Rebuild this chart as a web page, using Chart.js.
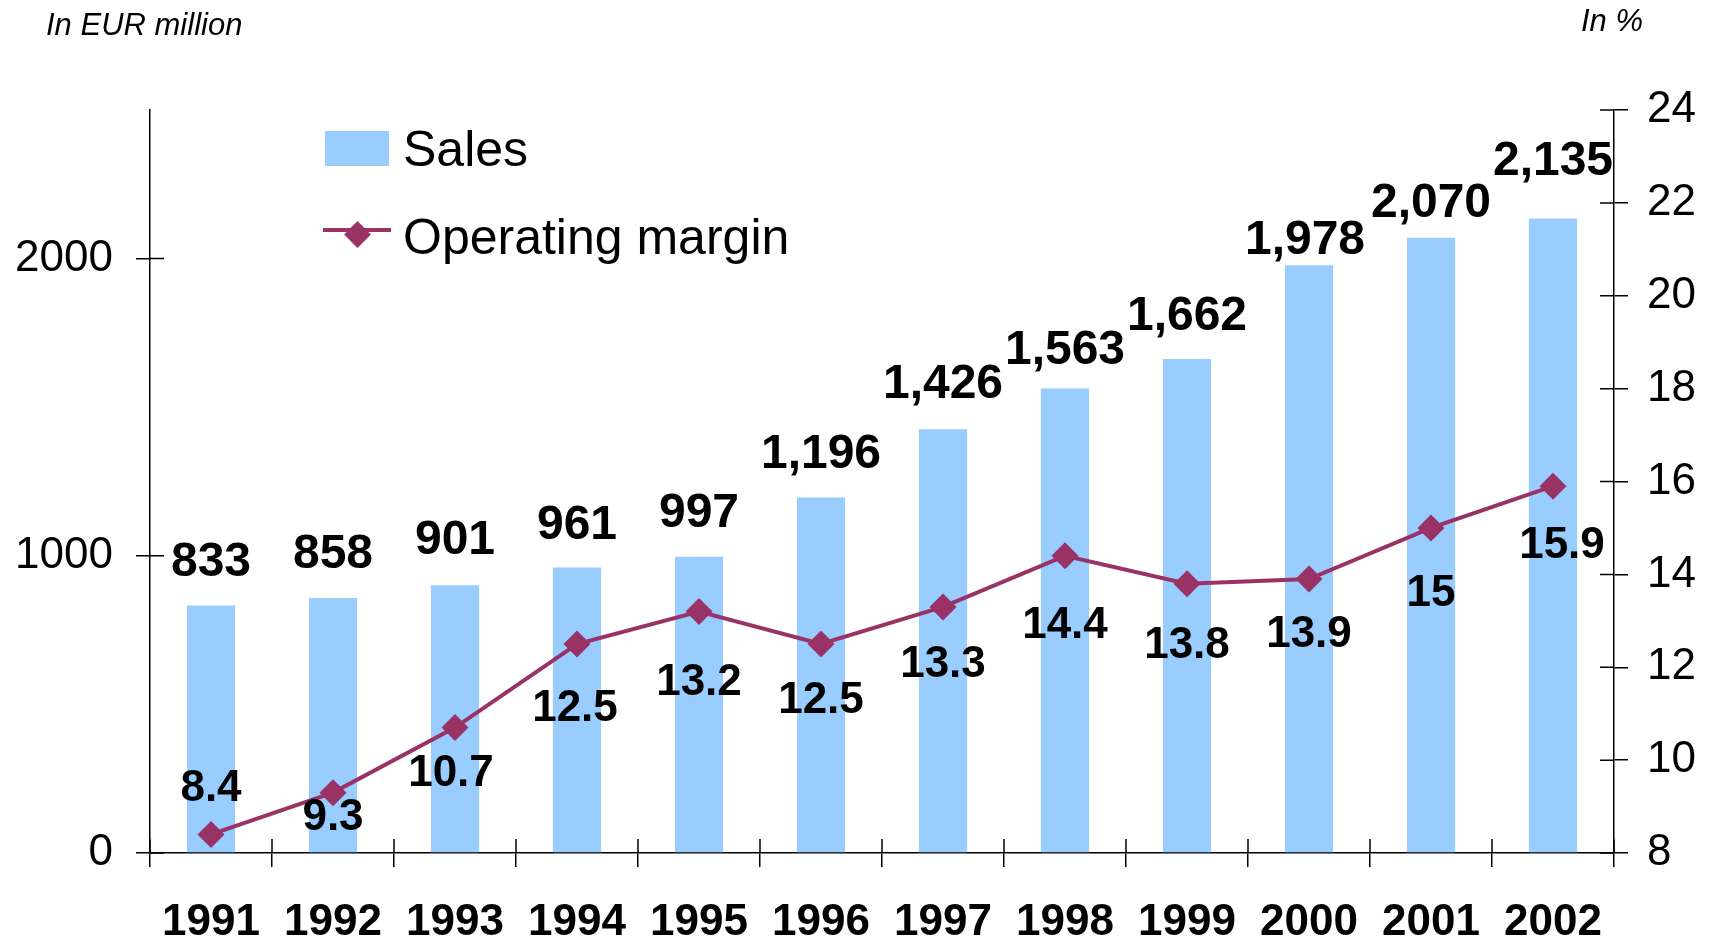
<!DOCTYPE html>
<html>
<head>
<meta charset="utf-8">
<script src="https://cdn.jsdelivr.net/npm/chart.js@4"></script>
<style>
  html, body { margin: 0; padding: 0; background: #fff; }
  #wrap { position: relative; width: 1717px; height: 940px; font-family: "Liberation Sans", Arial, sans-serif; color: #000; }
  #chart { position: absolute; left: 0; top: 0; }
  .unit { position: absolute; font-style: italic; font-size: 31px; line-height: 31px; white-space: nowrap; }
  .leg { position: absolute; font-size: 50px; line-height: 50px; white-space: nowrap; }
  .swatch { position: absolute; background: #99ccff; }
  .legline { position: absolute; background: #993366; }
  .diamond { position: absolute; background: #993366; transform: rotate(45deg); }
</style>
</head>
<body>
<div id="wrap">
  <canvas id="chart" width="1717" height="940"></canvas>
  <div class="unit" style="left:46px; top:9px;">In EUR million</div>
  <div class="unit" style="left:1581px; top:5px;">In %</div>
  <div class="swatch" style="left:325px; top:131px; width:64px; height:35px;"></div>
  <div class="leg" style="left:403px; top:124px;">Sales</div>
  <div class="legline" style="left:323px; top:228px; width:68px; height:4px;"></div>
  <div class="diamond" style="left:348px; top:225px; width:19px; height:19px;"></div>
  <div class="leg" style="left:403px; top:212px;">Operating margin</div>
</div>
<script>
// Chart data
const years = ['1991', '1992', '1993', '1994', '1995', '1996', '1997', '1998', '1999', '2000', '2001', '2002'];
const sales = [833, 858, 901, 961, 997, 1196, 1426, 1563, 1662, 1978, 2070, 2135];
const margin = [8.4, 9.3, 10.7, 12.5, 13.2, 12.5, 13.3, 14.4, 13.8, 13.9, 15, 15.9];
const salesTicks = [0, 1000, 2000];
const marginTicks = [8, 10, 12, 14, 16, 18, 20, 22, 24];

// Label nudges (px), as placed in the original
const barLabelUp = [43, 43, 44, 42, 43, 43, 44, 38, 42, 24, 34, 57];
const barLabelDx = [0, 0, 0, 0, 0, 0, 0, 0, 0, -4, 0, 0];
const lineLabelDy = [-46, 25, 46, 65, 71, 57, 58, 70, 62, 56, 66, 60];
const lineLabelDx = [0, 0, -4, -2, 0, 0, 0, 0, 0, 0, 0, 9];

const FONT = '"Liberation Sans", Arial, sans-serif';
const TICK = 14;

// Value labels over bars and under points
const valueLabels = {
    id: 'valueLabels',
    afterDatasetsDraw(chart) {
        const ctx = chart.ctx;
        ctx.save();
        ctx.fillStyle = '#000';
        ctx.textAlign = 'center';
        ctx.textBaseline = 'middle';
        ctx.font = 'bold 48px ' + FONT;
        chart.getDatasetMeta(1).data.forEach((bar, i) => {
            ctx.fillText(sales[i].toLocaleString('en-US'), bar.x + barLabelDx[i], bar.y - barLabelUp[i]);
        });
        ctx.font = 'bold 44px ' + FONT;
        chart.getDatasetMeta(0).data.forEach((pt, i) => {
            ctx.fillText(String(margin[i]), pt.x + lineLabelDx[i], pt.y + lineLabelDy[i]);
        });
        ctx.restore();
    }
};

// Tick marks cross the axes: draw the inner half
const innerTicks = {
    id: 'innerTicks',
    afterDraw(chart) {
        const ctx = chart.ctx;
        const a = chart.chartArea;
        const { x, y, y1 } = chart.scales;
        ctx.save();
        ctx.strokeStyle = '#000';
        ctx.lineWidth = 1.5;
        ctx.beginPath();
        salesTicks.forEach(v => {
            const py = y.getPixelForValue(v);
            ctx.moveTo(a.left, py); ctx.lineTo(a.left + TICK, py);
        });
        marginTicks.forEach(v => {
            const py = y1.getPixelForValue(v);
            ctx.moveTo(a.right, py); ctx.lineTo(a.right - TICK, py);
        });
        for (let i = 0; i <= years.length; i++) {
            const px = x.getPixelForValue(i - 0.5);
            ctx.moveTo(px, a.bottom); ctx.lineTo(px, a.bottom - TICK);
        }
        ctx.stroke();
        ctx.restore();
    }
};

const axisGrid = { drawOnChartArea: false, drawTicks: true, tickLength: TICK, color: '#000', lineWidth: 1.5 };
const axisBorder = { display: true, color: '#000', width: 1.5 };

new Chart(document.getElementById('chart').getContext('2d'), {
    data: {
        labels: years,
        datasets: [{
            type: 'line',
            label: 'Operating margin',
            data: margin,
            yAxisID: 'y1',
            borderColor: '#993366',
            backgroundColor: '#993366',
            borderWidth: 4,
            pointStyle: 'rectRot',
            pointRadius: 13.5,
            pointHoverRadius: 13.5,
            pointBorderWidth: 0,
            tension: 0,
            order: 0
        }, {
            type: 'bar',
            label: 'Sales',
            data: sales,
            yAxisID: 'y',
            backgroundColor: '#99ccff',
            borderWidth: 0,
            barPercentage: 0.395,
            categoryPercentage: 1,
            order: 1
        }]
    },
    options: {
        responsive: false,
        animation: false,
        layout: { padding: { top: 110, left: 0, right: 0, bottom: 0 } },
        plugins: { legend: { display: false }, tooltip: { enabled: false } },
        scales: {
            x: {
                type: 'category',
                offset: true,
                grid: Object.assign({ offset: true }, axisGrid),
                border: axisBorder,
                ticks: { color: '#000', font: { family: FONT, size: 44, weight: 'bold', lineHeight: 1 }, padding: 34, maxRotation: 0, autoSkip: false },
                afterFit: s => { s.height = 87; }
            },
            y: {
                position: 'left',
                min: 0,
                max: 2500,
                grid: axisGrid,
                border: axisBorder,
                ticks: { stepSize: 1000, color: '#000', font: { family: FONT, size: 44 }, padding: 23, callback: v => String(v) },
                afterBuildTicks: s => { s.ticks = salesTicks.map(v => ({ value: v })); },
                afterFit: s => { s.width = 150; }
            },
            y1: {
                position: 'right',
                min: 8,
                max: 24,
                grid: axisGrid,
                border: axisBorder,
                ticks: { stepSize: 2, color: '#000', font: { family: FONT, size: 44 }, padding: 19, callback: v => String(v) },
                afterBuildTicks: s => { s.ticks = marginTicks.map(v => ({ value: v })); },
                afterFit: s => { s.width = 103; }
            }
        }
    },
    plugins: [valueLabels, innerTicks]
});
</script>
</body>
</html>
